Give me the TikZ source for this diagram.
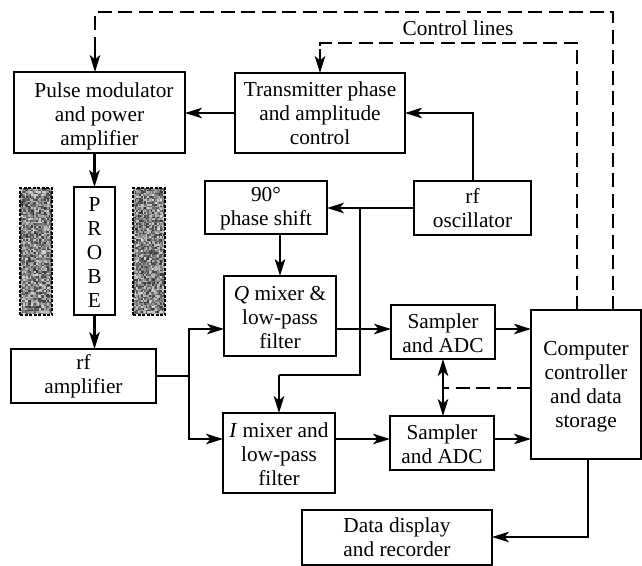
\documentclass[tikz,border=0pt]{standalone}
\usepackage{fontspec}
\setmainfont{Liberation Serif}
\usetikzlibrary{arrows.meta,calc}
\tikzset{
  box/.style={draw=black,line width=2.2pt,fill=white,inner sep=0pt,outer sep=0pt,align=center,
    font=\fontsize{21.3}{24}\selectfont,anchor=center,text=black},
  conn/.style={line width=2.2pt,draw=black,-{Stealth[length=17pt,width=10.5pt,inset=4.5pt]}},
  plainconn/.style={line width=2.2pt,draw=black},
  ctrl/.style={line width=2.2pt,draw=black,dash pattern=on 14pt off 6.5pt},
  tiponly/.style={line width=2.2pt,draw=black,-{Stealth[length=17pt,width=10.5pt,inset=4.5pt]}},
  lbl/.style={font=\fontsize{21.3}{24}\selectfont,inner sep=0pt,text=black},
  magnet/.style={inner sep=0pt,outer sep=0pt,minimum width=32pt,minimum height=127pt},
}
\newcommand{\dn}[1]{\rule{0pt}{#1pt}}
\newcommand{\speckle}[4]{%
  \foreach \i in {0,...,#3}{\foreach \j in {0,...,#4}{%
    \pgfmathrandominteger{\gv}{15}{80}%
    \fill[black!\gv] (#1+\i*1.6,#2+\j*1.6) rectangle ++(1.6,1.6);}}}
\begin{document}
\begin{tikzpicture}[x=1pt,y=-1pt]
\useasboundingbox (0,0) rectangle (642,565);
\pgfmathsetseed{4242}
% magnets
\speckle{20}{188}{19}{78}
\speckle{133}{188}{19}{78}
\node[magnet,draw=black,line width=1.8pt,dash pattern=on 3pt off 1.5pt] (magL) at (36,251.5) {};
\node[magnet,draw=black,line width=1.8pt,dash pattern=on 3pt off 1.5pt] (magR) at (149,251.5) {};
% boxes
\node[box,minimum width=171pt,minimum height=81pt] (pulse) at (99.5,112.5) {\dn{22.5}\hspace*{9pt}Pulse modulator\\and power\\amplifier};
\node[box,minimum width=170pt,minimum height=80pt] (trans) at (320,113) {Transmitter phase\\and amplitude\\control};
\node[box,minimum width=122pt,minimum height=53pt] (phase) at (266,207.5) {\dn{16.5}90°\\phase shift};
\node[box,minimum width=117pt,minimum height=54pt] (osc) at (472.5,208) {rf\\oscillator};
\node[box,minimum width=41pt,minimum height=128pt] (probe) at (94.5,251) {\dn{17.5}P\\R\\O\\B\\E};
\node[box,minimum width=145pt,minimum height=54pt] (rfamp) at (83.5,376) {\dn{16.5}rf\\amplifier};
\node[box,minimum width=112pt,minimum height=80pt] (qmix) at (280,316) {\dn{17.5}\textit{Q} mixer \&\\low-pass\\filter};
\node[box,minimum width=112pt,minimum height=80pt] (imix) at (279,453) {\dn{17.5}\textit{I} mixer and\\low-pass\\filter};
\node[box,minimum width=104pt,minimum height=54pt] (sa) at (443,332) {\dn{17.5}Sampler\\and ADC};
\node[box,minimum width=104pt,minimum height=54pt] (sb) at (442,443) {\dn{16.5}Sampler\\and ADC};
\node[box,minimum width=110pt,minimum height=149pt] (comp) at (586,384.5) {\dn{18}Computer\\controller\\and data\\storage};
\node[box,minimum width=190pt,minimum height=55pt] (data) at (397,537.5) {Data display\\and recorder};
\node[lbl] (ctl) at (458,28.5) {Control lines};
% junctions and bends
\coordinate (outerR) at (613,12);
\coordinate (outerL) at (95,12);
\coordinate (innerR) at (577,43);
\coordinate (innerL) at (320,43);
\coordinate (oscUp) at (473,113);
\coordinate (branch) at (360,208);
\coordinate (branchB) at (360,375);
\coordinate (branchL) at (279,375);
\coordinate (split) at (189,376);
\coordinate (splitQ) at (189,329);
\coordinate (splitI) at (189,439);
\coordinate (sctl) at (443,388);
\coordinate (dataTurn) at (588,537);
% control lines
\draw[ctrl] (comp.north -| outerR) -- (outerR) -- (outerL) -- ($(outerL)!.72!(outerL |- pulse.north)$);
\draw[tiponly] ($(outerL)!.6!(outerL |- pulse.north)$) -- (outerL |- pulse.north);
\draw[ctrl] (comp.north -| innerR) -- (innerR) -- (innerL) -- (innerL |- trans.north);
\draw[tiponly] ($(innerL)!.2!(innerL |- trans.north)$) -- (innerL |- trans.north);
\draw[ctrl] (comp.west |- sctl) -- (sctl);
\draw[tiponly] (sctl) -- (sctl |- sa.south);
\draw[tiponly] (sctl) -- (sctl |- sb.north);
% signal paths
\draw[conn] (trans.west) -- (trans.west -| pulse.east);
\draw[conn] (pulse.south -| probe.north) -- (probe.north);
\draw[conn] (probe.south) -- (probe.south |- rfamp.north);
\draw[conn] (osc.north -| oscUp) -- (oscUp) -- (oscUp -| trans.east);
\draw[conn] (osc.west) -- (osc.west -| phase.east);
\draw[conn] (phase.south -| qmix.north) -- (qmix.north);
\draw[plainconn] (branch) -- (branchB) -- (branchL);
\draw[conn] (branchL) -- (imix.north);
\draw[plainconn] (rfamp.east) -- (split);
\draw[conn] (split) -- (splitQ) -- (splitQ -| qmix.west);
\draw[conn] (split) -- (splitI) -- (splitI -| imix.west);
\draw[conn] (splitQ -| qmix.east) -- (splitQ -| sa.west);
\draw[conn] (splitI -| imix.east) -- (splitI -| sb.west);
\draw[conn] (splitQ -| sa.east) -- (splitQ -| comp.west);
\draw[conn] (splitI -| sb.east) -- (splitI -| comp.west);
\draw[conn] (comp.south -| dataTurn) -- (dataTurn) -- (dataTurn -| data.east);
\end{tikzpicture}
\end{document}
